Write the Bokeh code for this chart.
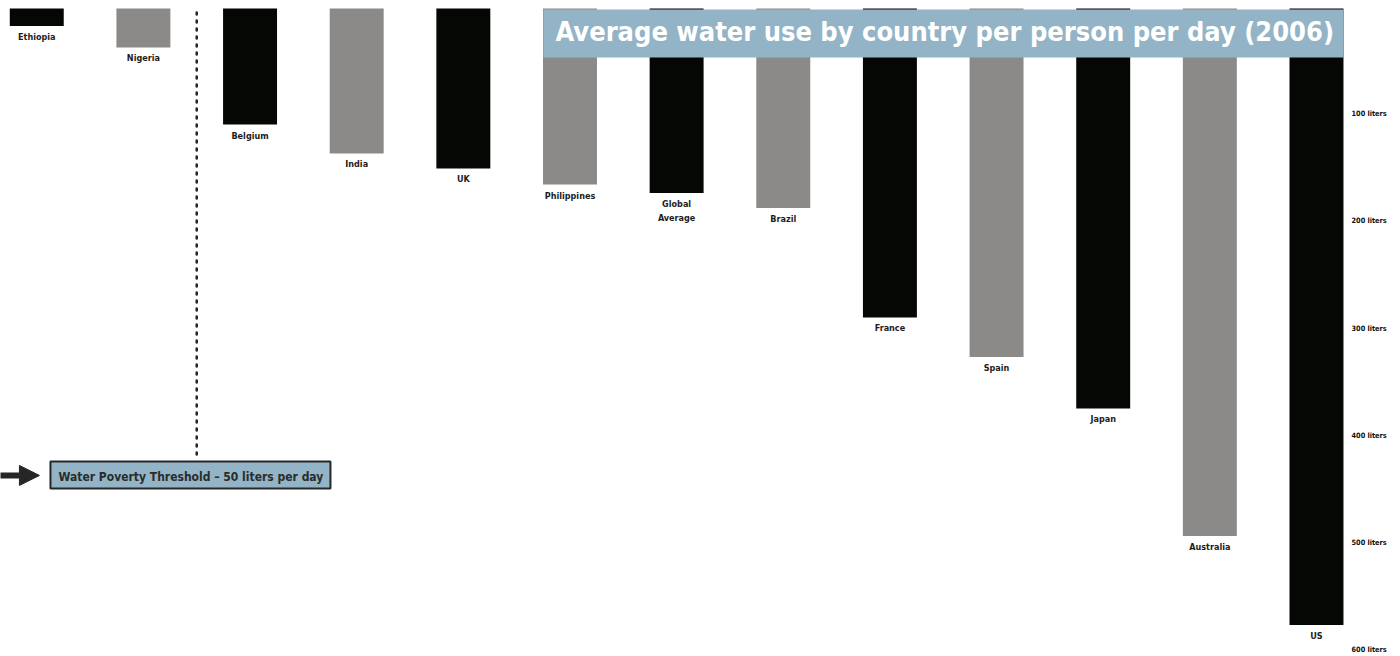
from bokeh.plotting import figure
from bokeh.models import Range1d, FixedTicker, LinearAxis, Arrow, NormalHead, ColumnDataSource
from bokeh.core.properties import value
from bokeh.embed import file_html
from bokeh.resources import INLINE

# ---- data ----
countries = ["Ethiopia", "Nigeria", "Belgium", "India", "UK", "Philippines",
             "Global\nAverage", "Brazil", "France", "Spain", "Japan", "Australia", "US"]
liters = [18, 38, 110, 137, 151, 166, 174, 188, 290, 327, 375, 494, 577]
bar_colors = ["#050705", "#8b8a88"] * 6 + ["#050705"]
tick_values = [100, 200, 300, 400, 500, 600]
tick_labels = ["100 liters", "200 liters", "300 liters", "400 liters", "500 liters", "600 liters"]
threshold_text = "Water Poverty Threshold \u2013 50 liters per day"
title_text = "Average water use by country per person per day (2006)"

FONT = "DejaVu Sans Condensed"
xs = list(range(len(countries)))

src = ColumnDataSource(dict(x=xs, top=liters, color=bar_colors, name=countries))

p = figure(width=1400, height=656, output_backend="svg", toolbar_location=None,
           x_range=Range1d(-0.340, 12.272), y_range=Range1d(606.5, 1.7),
           min_border_left=0, min_border_top=8, min_border_bottom=0, min_border_right=55,
           title=None)
p.xaxis.visible = False
p.yaxis.visible = False
p.grid.visible = False
p.outline_line_color = None
p.background_fill_color = "white"
p.border_fill_color = "white"

# bars hanging from the top
p.vbar(x="x", width=0.506, bottom=0, top="top", fill_color="color", line_color=None, source=src)

# country labels below each bar
p.text(x="x", y="top", text="name", source=src, text_font=value(FONT), text_font_style="bold",
       text_font_size="9px", text_color="#1c1c1c", text_align="center", text_baseline="top",
       y_offset=6, text_line_height=1.4)

# right axis with "liters" labels
ax = LinearAxis(ticker=FixedTicker(ticks=tick_values),
                major_label_overrides={v: l for v, l in zip(tick_values, tick_labels)})
ax.axis_line_color = None
ax.major_tick_line_color = None
ax.minor_tick_line_color = None
ax.major_tick_out = 0
ax.major_tick_in = 0
ax.major_label_standoff = 6
ax.major_label_text_font = FONT
ax.major_label_text_font_style = "bold"
ax.major_label_text_font_size = "7.3px"
ax.major_label_text_color = "#111111"
p.add_layout(ax, "right")

# dotted separator line (between the poverty-threshold countries and the rest)
p.segment(x0=[1.5], y0=[5.4], x1=[1.5], y1=[419], line_color="#222222",
          line_width=2.5, line_dash="2 6", line_cap="round")

# threshold box + text
p.quad(left=[0.1285], right=[2.754], top=[424.5], bottom=[449.7],
       fill_color="#93b4c6", line_color="#262626", line_width=2)
p.text(x=[0.2035], y=[439.2], text=[threshold_text], text_font=value(FONT),
       text_font_style="bold", text_font_size="12px", text_color="#2b2b2b",
       text_align="left", text_baseline="middle")

# arrow pointing to the threshold box
p.add_layout(Arrow(x_start=-0.40, y_start=437.5, x_end=0.025, y_end=437.5,
                   line_color="#262626", line_width=6,
                   end=NormalHead(size=20, fill_color="#262626", line_color="#262626")))

# title banner
p.quad(left=[4.751], right=[12.253], top=[2.6], bottom=[47.4],
       fill_color="#93b4c6", line_color=None)
p.text(x=[4.864], y=[23.6], text=[title_text], text_font=value(FONT),
       text_font_style="bold", text_font_size="27px", text_color="white",
       text_align="left", text_baseline="middle")

open("out.html", "w").write(file_html(p, INLINE))
